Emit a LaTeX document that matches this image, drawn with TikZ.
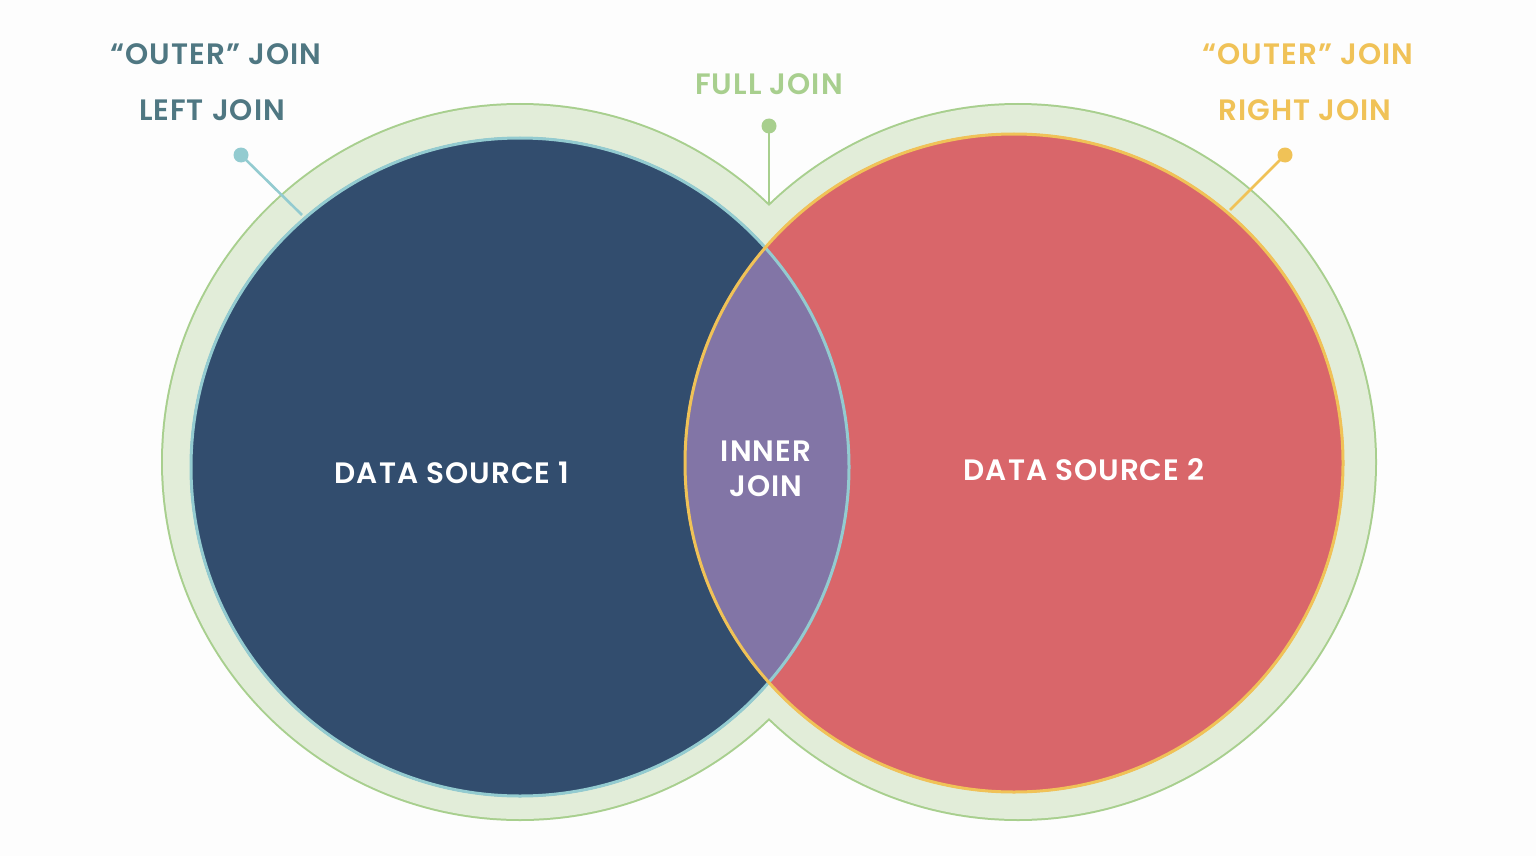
\documentclass[tikz,border=0pt]{standalone}
\usepackage{fontspec}
\setmainfont{Poppins}[BoldFont={Poppins SemiBold}]
\definecolor{bgc}{HTML}{FDFDFD}
\definecolor{ringfill}{HTML}{E2EDD9}
\definecolor{ringline}{HTML}{A8CF8E}
\definecolor{navy}{HTML}{324D6E}
\definecolor{coral}{HTML}{D9666A}
\definecolor{lens}{HTML}{8275A6}
\definecolor{lblue}{HTML}{93CBD0}
\definecolor{gold}{HTML}{F0C257}
\definecolor{teal}{HTML}{4F7782}
\tikzset{
  lbl/.style={font=\fontsize{29.5}{35}\selectfont\bfseries\addfontfeature{LetterSpace=3.5}, inner sep=0pt, align=center},
  dotnode/.style={circle, fill=#1, inner sep=0pt, minimum size=15pt},
  conn/.style={line width=2.6pt, draw=#1},
}
\begin{document}
\begin{tikzpicture}[x=1pt,y=-1pt]
\useasboundingbox (0,0) rectangle (1536,856);
\fill[bgc] (0,0) rectangle (1536,856);
% outer ring (union of two circles)
\coordinate (lc) at (520,462);
\coordinate (rc) at (1018,462);
\draw[ringline, line width=4pt] (lc) circle[radius=357pt] (rc) circle[radius=357pt];
\fill[ringfill] (lc) circle[radius=357pt];
\fill[ringfill] (rc) circle[radius=357pt];
% data sources
\coordinate (dc) at (520,467);
\coordinate (ec) at (1014,463);
\fill[navy] (dc) circle[radius=330pt];
\fill[coral] (ec) circle[radius=330pt];
\begin{scope}
  \clip (dc) circle[radius=330pt];
  \fill[lens] (ec) circle[radius=330pt];
\end{scope}
\draw[lblue, line width=3pt] (dc) circle[radius=329pt];
\draw[gold, line width=3pt] (ec) circle[radius=329pt];
% labels inside
\node[lbl, text=white] (ds1) at (452,473) {DATA SOURCE 1};
\node[lbl, text=white] (ds2) at (1084,470) {DATA SOURCE 2};
\node[lbl, text=white] (inner) at (766,469) {INNER\\JOIN};
% top labels
\node[lbl, text=teal] (lo) at (216,54) {“OUTER” JOIN};
\node[lbl, text=teal] (lj) at (212,110) {LEFT JOIN};
\node[lbl, text=ringline] (fj) at (769,84) {FULL JOIN};
\node[lbl, text=gold] (ro) at (1308,54) {“OUTER” JOIN};
\node[lbl, text=gold] (rj) at (1305,110) {RIGHT JOIN};
% connectors
\coordinate (le) at (302,215);
\coordinate (fe) at (769,203);
\coordinate (re) at (1230,210);
\node[dotnode=lblue] (ld) at (241,155) {};
\node[dotnode=ringline] (fd) at (769,126) {};
\node[dotnode=gold] (rd) at (1285,155) {};
\draw[conn=lblue] (ld.center) -- (le);
\draw[conn=ringline] (fd.center) -- (fe);
\draw[conn=gold] (rd.center) -- (re);
\end{tikzpicture}
\end{document}
